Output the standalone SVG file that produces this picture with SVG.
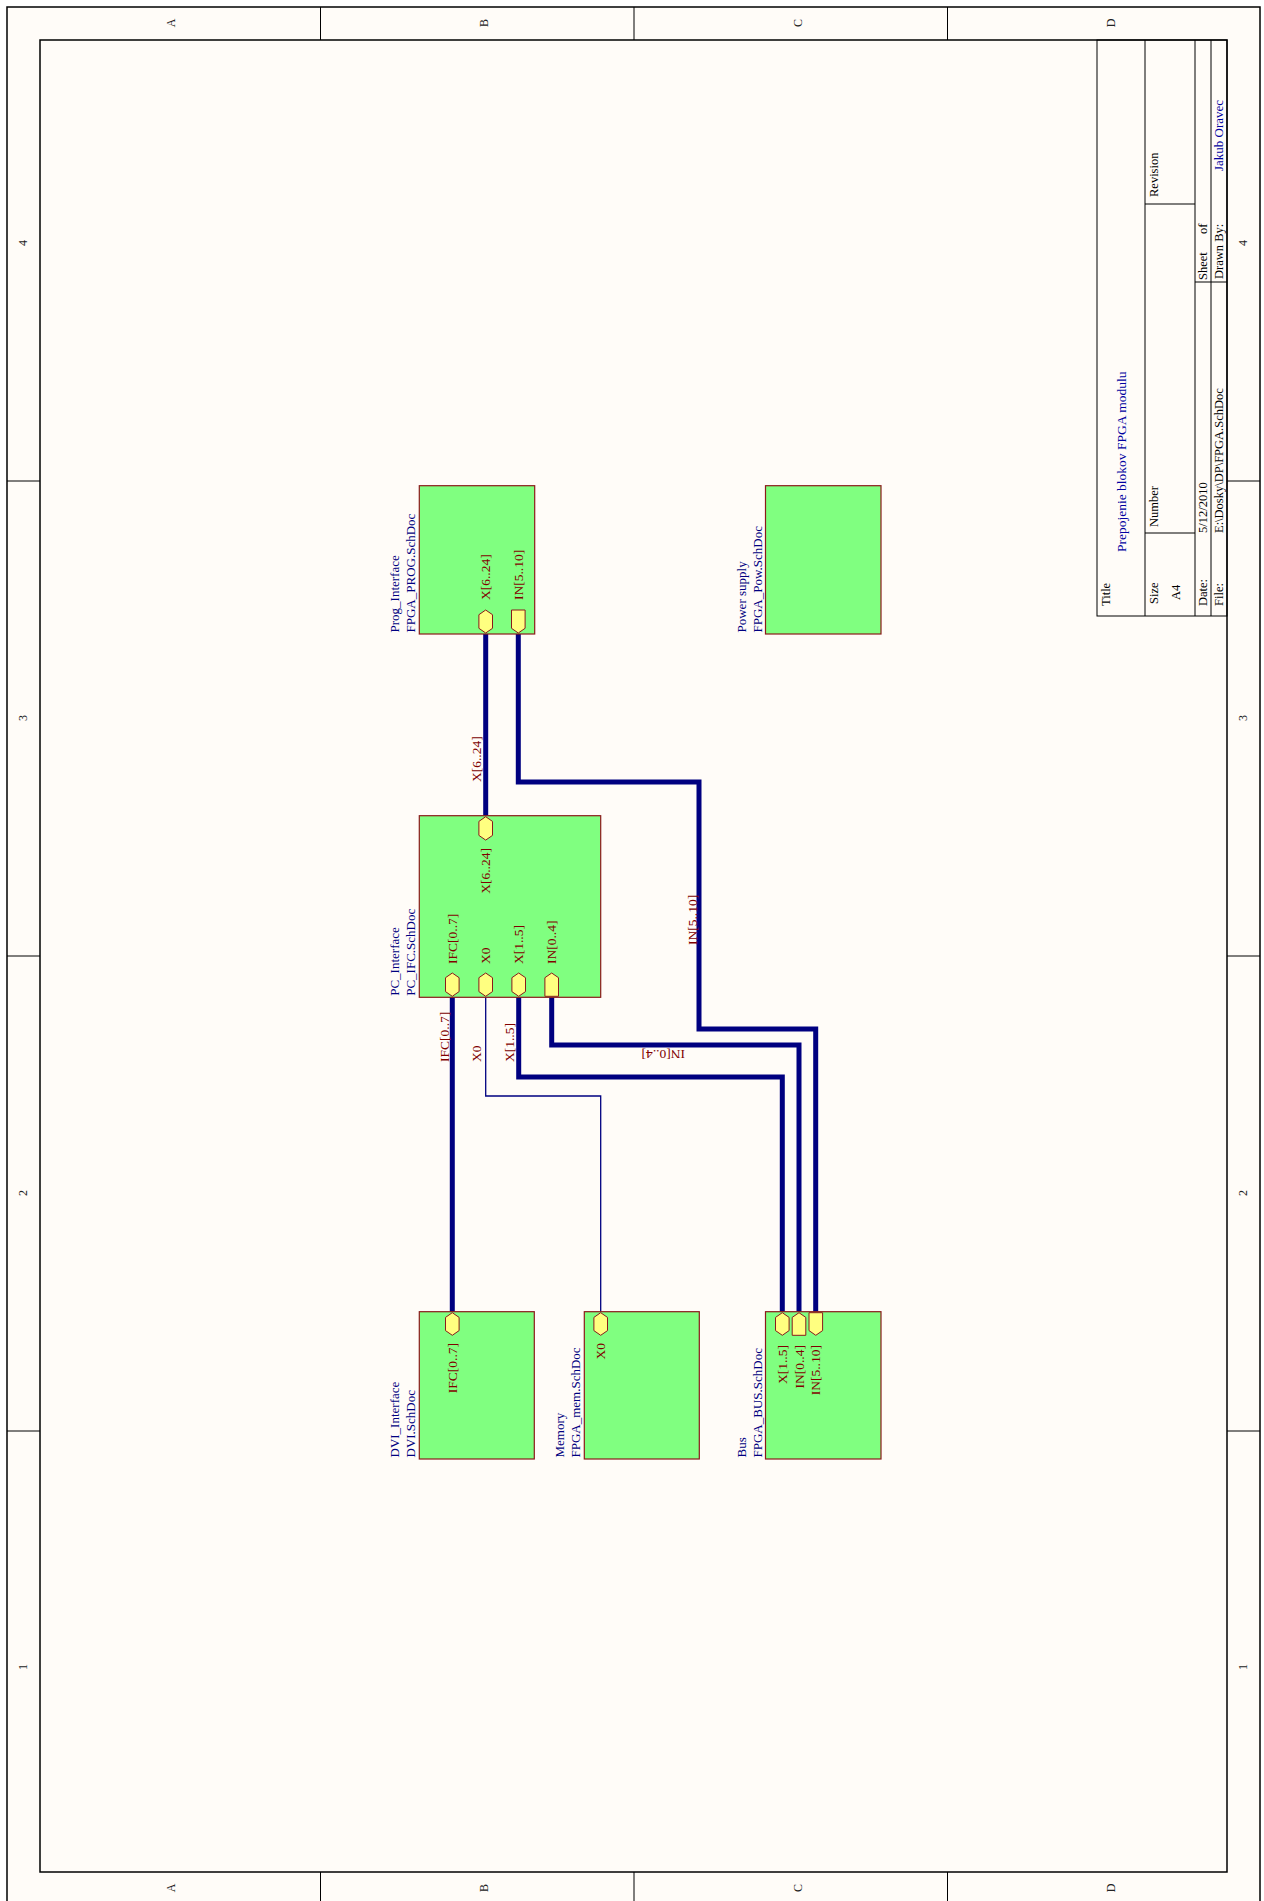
<svg xmlns="http://www.w3.org/2000/svg" width="1264" height="1901" viewBox="0 0 1264 1901">
<defs>
<style>
text{font-family:"Liberation Serif","Times New Roman",serif;}
.frame{fill:none;stroke:#000;stroke-width:1.5}
.zone{stroke:#000;stroke-width:1}
.zt{font-size:12px;fill:#222;text-anchor:middle}
.tb{fill:none;stroke:#000;stroke-width:1}
.tt{font-size:12.5px;fill:#000}
.tv{font-size:13.5px;fill:#0000A0}
.box{fill:#80FF80;stroke:#8B1A1A;stroke-width:1.2}
.ent{fill:#FFFF80;stroke:#8B1A1A;stroke-width:1}
.el{font-size:13.5px;fill:#800000}
.nm{font-size:13px;fill:#000080}
.bus{fill:none;stroke:#000080;stroke-width:5;stroke-linejoin:miter}
.wire{fill:none;stroke:#000080;stroke-width:1.3}
.wl{font-size:13.5px;fill:#800000}
</style>
</defs>
<rect x="0" y="0" width="1264" height="1901" fill="#FFFFFF"/>
<rect x="7" y="7" width="1253" height="1898" fill="#FFFCF8"/>
<g id="frame">
<rect class="frame" x="7" y="7" width="1253" height="1898"/>
<rect class="frame" x="40" y="40" width="1187" height="1832"/>
<line class="zone" x1="320.5" y1="7" x2="320.5" y2="40"/>
<line class="zone" x1="634" y1="7" x2="634" y2="40"/>
<line class="zone" x1="947.5" y1="7" x2="947.5" y2="40"/>
<line class="zone" x1="320.5" y1="1872" x2="320.5" y2="1905"/>
<line class="zone" x1="634" y1="1872" x2="634" y2="1905"/>
<line class="zone" x1="947.5" y1="1872" x2="947.5" y2="1905"/>
<line class="zone" x1="7" y1="481" x2="40" y2="481"/>
<line class="zone" x1="7" y1="956" x2="40" y2="956"/>
<line class="zone" x1="7" y1="1431" x2="40" y2="1431"/>
<line class="zone" x1="1227" y1="481" x2="1260" y2="481"/>
<line class="zone" x1="1227" y1="956" x2="1260" y2="956"/>
<line class="zone" x1="1227" y1="1431" x2="1260" y2="1431"/>
<text class="zt" transform="translate(175,23) rotate(-90)">A</text>
<text class="zt" transform="translate(488,23) rotate(-90)">B</text>
<text class="zt" transform="translate(802,23) rotate(-90)">C</text>
<text class="zt" transform="translate(1115,23) rotate(-90)">D</text>
<text class="zt" transform="translate(175,1888) rotate(-90)">A</text>
<text class="zt" transform="translate(488,1888) rotate(-90)">B</text>
<text class="zt" transform="translate(802,1888) rotate(-90)">C</text>
<text class="zt" transform="translate(1115,1888) rotate(-90)">D</text>
<text class="zt" transform="translate(27,243) rotate(-90)">4</text>
<text class="zt" transform="translate(27,718) rotate(-90)">3</text>
<text class="zt" transform="translate(27,1193) rotate(-90)">2</text>
<text class="zt" transform="translate(27,1667) rotate(-90)">1</text>
<text class="zt" transform="translate(1247,243) rotate(-90)">4</text>
<text class="zt" transform="translate(1247,718) rotate(-90)">3</text>
<text class="zt" transform="translate(1247,1193) rotate(-90)">2</text>
<text class="zt" transform="translate(1247,1667) rotate(-90)">1</text>
</g>
<g id="titleblock">
<rect class="tb" x="1097" y="40" width="130" height="576"/>
<line class="tb" x1="1145" y1="40" x2="1145" y2="616"/>
<line class="tb" x1="1195" y1="40" x2="1195" y2="616"/>
<line class="tb" x1="1211" y1="40" x2="1211" y2="616"/>
<line class="tb" x1="1145" y1="533" x2="1195" y2="533"/>
<line class="tb" x1="1145" y1="204" x2="1195" y2="204"/>
<line class="tb" x1="1195" y1="282" x2="1227" y2="282"/>
<text class="tt" transform="translate(1110,606) rotate(-90)">Title</text>
<text class="tv" transform="translate(1126,552) rotate(-90)">Prepojenie blokov FPGA modulu</text>
<text class="tt" transform="translate(1158,604) rotate(-90)">Size</text>
<text class="tt" transform="translate(1180,600) rotate(-90)">A4</text>
<text class="tt" transform="translate(1158,527) rotate(-90)">Number</text>
<text class="tt" transform="translate(1158,197) rotate(-90)">Revision</text>
<text class="tt" transform="translate(1207,606) rotate(-90)">Date:</text>
<text class="tt" transform="translate(1207,533) rotate(-90)">5/12/2010</text>
<text class="tt" transform="translate(1207,280) rotate(-90)">Sheet</text>
<text class="tt" transform="translate(1207,234) rotate(-90)">of</text>
<text class="tt" transform="translate(1223,606) rotate(-90)">File:</text>
<text class="tt" transform="translate(1223,533) rotate(-90)">E:\Dosky\DP\FPGA.SchDoc</text>
<text class="tt" transform="translate(1223,279) rotate(-90)">Drawn By:</text>
<text class="tv" style="font-size:13px" transform="translate(1223,171) rotate(-90)">Jakub Oravec</text>
</g>
<g id="connectors">
<path class="bus" d="M485.7,634 V815.7"/>
<path class="bus" d="M518.3,634 V782 H699 V1029 H815.7 V1311.7"/>
<path class="bus" d="M452.3,997.3 V1311.7"/>
<path class="wire" d="M485.7,997.3 V1096 H600.7 V1311.7"/>
<path class="bus" d="M518.7,997.3 V1077 H782.3 V1311.7"/>
<path class="bus" d="M551.7,997.3 V1045 H799 V1311.7"/>
<text class="wl" transform="translate(481,782) rotate(-90)">X[6..24]</text>
<text class="wl" transform="translate(697,945) rotate(-90)">IN[5..10]</text>
<text class="wl" transform="translate(449,1062) rotate(-90)">IFC[0..7]</text>
<text class="wl" transform="translate(481,1062) rotate(-90)">X0</text>
<text class="wl" transform="translate(514,1062) rotate(-90)">X[1..5]</text>
<text class="wl" transform="translate(685,1050) rotate(180)">IN[0..4]</text>
</g>
<g id="prog_interface">
<rect class="box" x="419.3" y="485.7" width="115.4" height="148.3"/>
<polygon class="ent" points="485.7,610 492.5,614.7 492.5,628.3 485.7,633 478.9,628.3 478.9,614.7"/>
<polygon class="ent" points="511.5,610 525.1,610 525.1,628.3 518.3,633 511.5,628.3"/>
<text class="el" transform="translate(490.2,600) rotate(-90)">X[6..24]</text>
<text class="el" transform="translate(522.8,600) rotate(-90)">IN[5..10]</text>
<text class="nm" transform="translate(399.3,632.5) rotate(-90)">Prog_Interface</text>
<text class="nm" transform="translate(415.3,632.5) rotate(-90)">FPGA_PROG.SchDoc</text>
</g>
<g id="power_supply">
<rect class="box" x="765.5" y="485.7" width="115.5" height="148.3"/>
<text class="nm" transform="translate(745.5,632.5) rotate(-90)">Power supply</text>
<text class="nm" transform="translate(761.5,632.5) rotate(-90)">FPGA_Pow.SchDoc</text>
</g>
<g id="pc_interface">
<rect class="box" x="419.3" y="815.7" width="181.4" height="181.6"/>
<polygon class="ent" points="485.7,816.7 492.5,821.4 492.5,835.4 485.7,840.1 478.9,835.4 478.9,821.4"/>
<polygon class="ent" points="452.3,973 459.1,977.7 459.1,991.6 452.3,996.3 445.5,991.6 445.5,977.7"/>
<polygon class="ent" points="485.7,973 492.5,977.7 492.5,991.6 485.7,996.3 478.9,991.6 478.9,977.7"/>
<polygon class="ent" points="518.7,973 525.5,977.7 525.5,991.6 518.7,996.3 511.9,991.6 511.9,977.7"/>
<polygon class="ent" points="551.7,973 558.5,977.7 558.5,996.3 544.9,996.3 544.9,977.7"/>
<text class="el" text-anchor="end" transform="translate(490.2,848) rotate(-90)">X[6..24]</text>
<text class="el" transform="translate(456.8,964) rotate(-90)">IFC[0..7]</text>
<text class="el" transform="translate(490.2,964) rotate(-90)">X0</text>
<text class="el" transform="translate(523.2,964) rotate(-90)">X[1..5]</text>
<text class="el" transform="translate(556.2,964) rotate(-90)">IN[0..4]</text>
<text class="nm" transform="translate(399.3,995.8) rotate(-90)">PC_Interface</text>
<text class="nm" transform="translate(415.3,995.8) rotate(-90)">PC_IFC.SchDoc</text>
</g>
<g id="dvi_interface">
<rect class="box" x="419.3" y="1311.7" width="115" height="147.3"/>
<polygon class="ent" points="452.3,1312.7 459.1,1317.4 459.1,1330.6 452.3,1335.3 445.5,1330.6 445.5,1317.4"/>
<text class="el" text-anchor="end" transform="translate(456.8,1343) rotate(-90)">IFC[0..7]</text>
<text class="nm" transform="translate(399.3,1457.5) rotate(-90)">DVI_Interface</text>
<text class="nm" transform="translate(415.3,1457.5) rotate(-90)">DVI.SchDoc</text>
</g>
<g id="memory">
<rect class="box" x="584.3" y="1311.7" width="115" height="147.3"/>
<polygon class="ent" points="600.7,1312.7 607.5,1317.4 607.5,1330.6 600.7,1335.3 593.9,1330.6 593.9,1317.4"/>
<text class="el" text-anchor="end" transform="translate(605.2,1343) rotate(-90)">X0</text>
<text class="nm" transform="translate(564.3,1457.5) rotate(-90)">Memory</text>
<text class="nm" transform="translate(580.3,1457.5) rotate(-90)">FPGA_mem.SchDoc</text>
</g>
<g id="bus">
<rect class="box" x="765.5" y="1311.7" width="115.5" height="147.3"/>
<polygon class="ent" points="782.3,1312.7 789.1,1317.4 789.1,1330.6 782.3,1335.3 775.5,1330.6 775.5,1317.4"/>
<polygon class="ent" points="799,1312.7 805.8,1317.4 805.8,1335.3 792.2,1335.3 792.2,1317.4"/>
<polygon class="ent" points="809,1312.7 822.6,1312.7 822.6,1330.6 815.8,1335.3 809,1330.6"/>
<text class="el" text-anchor="end" transform="translate(786.8,1345) rotate(-90)">X[1..5]</text>
<text class="el" text-anchor="end" transform="translate(803.5,1345) rotate(-90)">IN[0..4]</text>
<text class="el" text-anchor="end" transform="translate(820.3,1345) rotate(-90)">IN[5..10]</text>
<text class="nm" transform="translate(745.5,1457.5) rotate(-90)">Bus</text>
<text class="nm" transform="translate(761.5,1457.5) rotate(-90)">FPGA_BUS.SchDoc</text>
</g>
</svg>
